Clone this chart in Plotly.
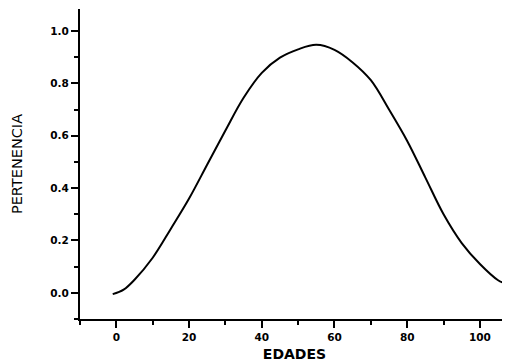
import plotly.graph_objects as go

ages = [-1, 2, 5, 10, 15, 20, 25, 30, 35, 40, 45, 50, 55, 60, 65, 70, 75, 80, 85, 90, 95, 100, 105, 106.6]
membership = [-0.005, 0.012, 0.05, 0.134, 0.245, 0.36, 0.49, 0.62, 0.745, 0.84, 0.898, 0.93, 0.947,
              0.928, 0.88, 0.812, 0.70, 0.58, 0.44, 0.30, 0.19, 0.11, 0.048, 0.038]

x_title = "EDADES"
y_title = "PERTENENCIA"

fig = go.Figure()
fig.add_trace(go.Scatter(x=ages, y=membership, mode="lines",
                         line=dict(color="black", width=2, shape="spline", smoothing=1.0),
                         showlegend=False, hoverinfo="skip", cliponaxis=False))

tickfont = dict(family="DejaVu Sans", size=10.5, color="black", weight="bold")

fig.update_layout(
    width=502, height=356,
    margin=dict(l=72, r=1, t=1, b=45, autoexpand=False),
    paper_bgcolor="white", plot_bgcolor="white",
    xaxis=dict(
        range=[-10, 108], tickmode="linear", tick0=0, dtick=20,
        ticks="outside", ticklen=7, tickwidth=1.5, tickcolor="black",
        minor=dict(tickmode="linear", tick0=0, dtick=10, ticks="outside", ticklen=4, tickwidth=1.5, tickcolor="black"),
        showline=True, linecolor="black", linewidth=2,
        showgrid=False, zeroline=False, tickfont=tickfont, automargin=False,
        title=dict(text=x_title, font=dict(family="DejaVu Sans", size=14, color="black", weight="bold"), standoff=8),
    ),
    yaxis=dict(
        range=[-0.1, 1.084], tickmode="linear", tick0=0, dtick=0.2, tickformat=".1f",
        ticks="outside", ticklen=7, tickwidth=1.5, tickcolor="black",
        minor=dict(tickmode="linear", tick0=0, dtick=0.1, ticks="outside", ticklen=4, tickwidth=1.5, tickcolor="black"),
        showline=True, linecolor="black", linewidth=2,
        showgrid=False, zeroline=False, tickfont=tickfont, automargin=False,
        title=dict(text=y_title, font=dict(family="DejaVu Sans", size=14.5, color="black"), standoff=24),
    ),
)

fig.write_html("out.html")
